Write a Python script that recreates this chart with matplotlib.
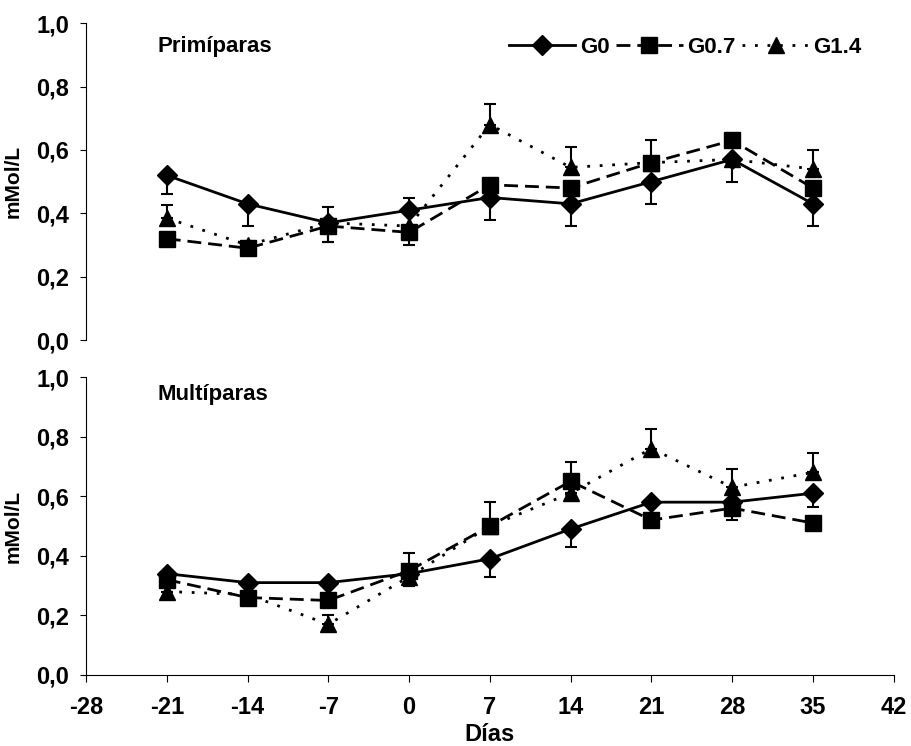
import matplotlib.pyplot as plt
import numpy as np

plt.rcParams['font.family'] = ['Liberation Sans', 'DejaVu Sans']
plt.rcParams['font.weight'] = 'bold'

dias = [-21, -14, -7, 0, 7, 14, 21, 28, 35]
grupos = ['G0', 'G0.7', 'G1.4']

# Primiparas
prim_g0 = [0.52, 0.43, 0.37, 0.41, 0.45, 0.43, 0.50, 0.57, 0.43]
prim_g07 = [0.32, 0.29, 0.36, 0.34, 0.49, 0.48, 0.56, 0.63, 0.48]
prim_g14 = [0.385, 0.30, 0.37, 0.36, 0.68, 0.545, 0.56, 0.57, 0.54]
# error bars (lower, upper)
prim_g0_err = ([0.06, 0.07, 0.06, 0.05, 0.07, 0.07, 0.07, 0.07, 0.07], [0, 0, 0, 0, 0, 0, 0, 0, 0])
prim_g07_err = ([0, 0, 0.05, 0.04, 0, 0, 0, 0, 0], [0, 0, 0.06, 0, 0, 0, 0.07, 0, 0])
prim_g14_err = ([0, 0, 0, 0, 0, 0, 0, 0, 0], [0.04, 0, 0, 0.09, 0.065, 0.065, 0, 0, 0.06])

# Multiparas
mult_g0 = [0.34, 0.31, 0.31, 0.34, 0.39, 0.49, 0.58, 0.58, 0.61]
mult_g07 = [0.32, 0.26, 0.25, 0.35, 0.50, 0.65, 0.52, 0.56, 0.51]
mult_g14 = [0.28, 0.27, 0.17, 0.33, 0.50, 0.61, 0.76, 0.63, 0.68]
mult_g0_err = ([0, 0, 0, 0.04, 0.06, 0.06, 0, 0, 0.045], [0, 0, 0, 0, 0, 0, 0, 0, 0])
mult_g07_err = ([0, 0, 0, 0.05, 0, 0, 0, 0.04, 0], [0, 0, 0, 0.06, 0.08, 0.065, 0, 0, 0])
mult_g14_err = ([0, 0, 0, 0, 0, 0, 0, 0, 0], [0, 0, 0.03, 0, 0, 0.0, 0.065, 0.06, 0.065])

estilos = [dict(ls='-', marker='D', ms=10, dashes=()),
           dict(ls='--', marker='s', ms=11, dashes=(5, 2.5)),
           dict(ls=':', marker='^', ms=11, dashes=(1, 3.5))]

fig = plt.figure(figsize=(9.11, 7.46), dpi=100)
ax1 = fig.add_axes([0.0944, 0.544, 0.8866, 0.425])
ax2 = fig.add_axes([0.0944, 0.0952, 0.8866, 0.3994])

paneles = [
    (ax1, 'Primíparas', 0.925, [prim_g0, prim_g07, prim_g14], [prim_g0_err, prim_g07_err, prim_g14_err]),
    (ax2, 'Multíparas', 0.94, [mult_g0, mult_g07, mult_g14], [mult_g0_err, mult_g07_err, mult_g14_err]),
]

for ax, titulo, ty, series, errores in paneles:
    for nombre, y, err, st in zip(grupos, series, errores, estilos):
        ax.errorbar(dias, y, yerr=np.array(err), color='black', ecolor='black',
                    elinewidth=1.5, capsize=4, capthick=1.5, fmt='none', zorder=2)
        line, = ax.plot(dias, y, color='black', lw=2, ls=st['ls'], marker=st['marker'],
                        ms=st['ms'], label=nombre, zorder=3)
        if st['dashes']:
            line.set_dashes(st['dashes'])
    ax.set_xlim(-28, 42)
    ax.set_ylim(0, 1.0)
    ax.set_yticks([0, 0.2, 0.4, 0.6, 0.8, 1.0])
    ax.set_yticklabels(['0,0', '0,2', '0,4', '0,6', '0,8', '1,0'], fontsize=17, fontweight='bold')
    ax.spines['top'].set_visible(False)
    ax.spines['right'].set_visible(False)
    ax.spines['left'].set_linewidth(0.8)
    ax.tick_params(axis='y', direction='out', length=4, width=0.8, pad=8)
    ax.set_ylabel('mMol/L', fontsize=15, fontweight='bold')
    ax.yaxis.set_label_coords(-0.078, 0.5)
    ax.text(-21.8, ty, titulo, fontsize=16, fontweight='bold', va='center')

ax1.spines['bottom'].set_visible(False)
ax1.set_xticks([])

ax2.set_xticks(range(-28, 43, 7))
ax2.set_xticklabels([str(v) for v in range(-28, 43, 7)], fontsize=17, fontweight='bold')
ax2.tick_params(axis='x', direction='out', length=5, width=0.8, pad=10)
ax2.spines['bottom'].set_linewidth(0.8)
ax2.set_xlabel('Días', fontsize=17, fontweight='bold', labelpad=3)

leg = ax1.legend(loc='upper right', bbox_to_anchor=(0.985, 1.02), ncol=3, frameon=False,
                 fontsize=16, handlelength=3.0, columnspacing=0.3, handletextpad=0.2)

plt.savefig('out.png', dpi=100)
